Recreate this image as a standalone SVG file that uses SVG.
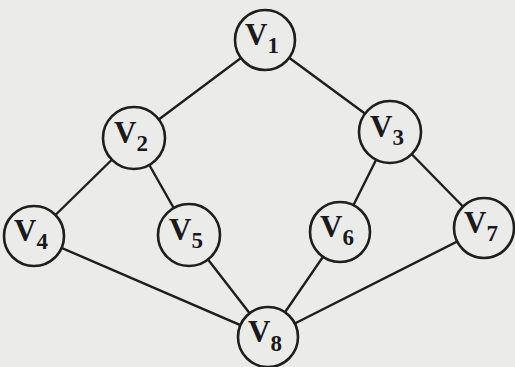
<svg xmlns="http://www.w3.org/2000/svg" width="515" height="367" viewBox="0 0 515 367">
<style>
.e{stroke:#1e1e1e;stroke-width:2.4;fill:none}
.n circle{fill:#ebebea;stroke:#1e1e1e;stroke-width:2.6}
.n text{font-family:"Liberation Serif","Times New Roman",serif;font-weight:bold;font-size:31px;fill:#1a1a1a}
.n tspan{font-size:23px}
</style>
<rect width="515" height="367" fill="#ebebea"/>
<g id="edges">
<line class="e" x1="265" y1="40" x2="134" y2="138"/>
<line class="e" x1="265" y1="40" x2="390" y2="132"/>
<line class="e" x1="134" y1="138" x2="34" y2="236"/>
<line class="e" x1="134" y1="138" x2="189" y2="235"/>
<line class="e" x1="390" y1="132" x2="340" y2="232"/>
<line class="e" x1="390" y1="132" x2="484" y2="228"/>
<line class="e" x1="34" y1="236" x2="268" y2="337"/>
<line class="e" x1="189" y1="235" x2="268" y2="337"/>
<line class="e" x1="340" y1="232" x2="268" y2="337"/>
<line class="e" x1="484" y1="228" x2="268" y2="337"/>
</g>
<g id="v1" class="n"><circle cx="265" cy="40" r="30"/><text x="245" y="45">V<tspan dy="8">1</tspan></text></g>
<g id="v2" class="n"><circle cx="134" cy="138" r="31"/><text x="114" y="143">V<tspan dy="8">2</tspan></text></g>
<g id="v3" class="n"><circle cx="390" cy="132" r="31"/><text x="370" y="137">V<tspan dy="8">3</tspan></text></g>
<g id="v4" class="n"><circle cx="34" cy="236" r="30"/><text x="14" y="241">V<tspan dy="8">4</tspan></text></g>
<g id="v5" class="n"><circle cx="189" cy="235" r="31"/><text x="169" y="240">V<tspan dy="8">5</tspan></text></g>
<g id="v6" class="n"><circle cx="340" cy="232" r="30"/><text x="320" y="237">V<tspan dy="8">6</tspan></text></g>
<g id="v7" class="n"><circle cx="484" cy="228" r="30"/><text x="464" y="233">V<tspan dy="8">7</tspan></text></g>
<g id="v8" class="n"><circle cx="268" cy="337" r="30"/><text x="248" y="342">V<tspan dy="9">8</tspan></text></g>
</svg>
